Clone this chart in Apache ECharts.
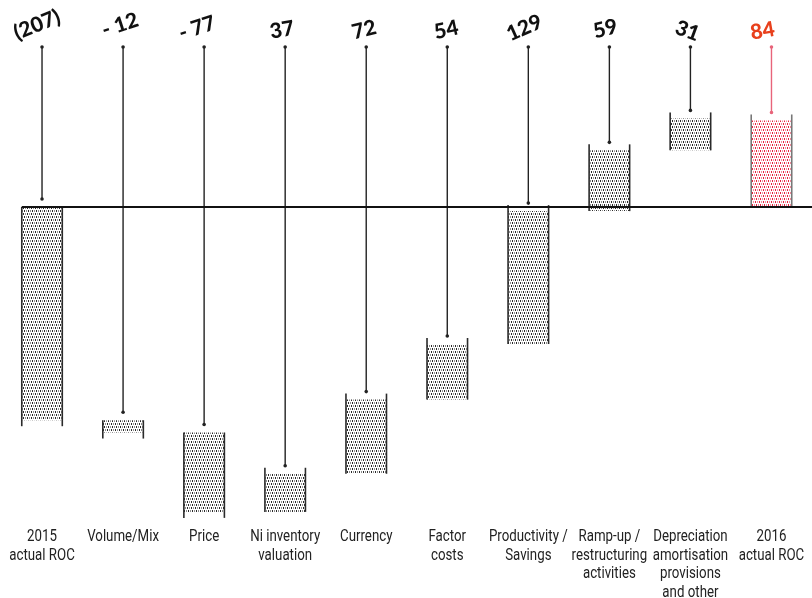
<!DOCTYPE html>
<html>
<head>
<meta charset="utf-8">
<title>ROC bridge 2015 to 2016</title>
<script src="https://cdn.jsdelivr.net/npm/echarts@6/dist/echarts.min.js"></script>
<style>
  html, body { margin: 0; padding: 0; background: #fff; }
  #chart { width: 812px; height: 598px; }
</style>
</head>
<body>
<div id="chart"></div>
<script>
// Bridge steps from 2015 to 2016 actual ROC
const categories = [
  '2015\nactual ROC',
  'Volume/Mix',
  'Price',
  'Ni inventory\nvaluation',
  'Currency',
  'Factor\ncosts',
  'Productivity /\nSavings',
  'Ramp-up /\nrestructuring\nactivities',
  'Depreciation\namortisation\nprovisions\nand other',
  '2016\nactual ROC'
];
const deltas = [-207, -12, -77, 37, 72, 54, 129, 59, 31, 84];
const valueLabels = ['(207)', '- 12', '- 77', '37', '72', '54', '129', '59', '31', '84'];
const isTotal = [true, false, false, false, false, false, false, false, false, true];

// Hand-lettered look of the value labels: tilt in degrees and small nudges
const labelTilt = [22, 18, 18, 10, 14, 12, 24, 14, -20, 10];
const labelNudgeX = [-5, -3, -7, -3, -2, -1, -4, -4, -3, -9];
const labelNudgeY = [-3, -3, 0, 2, 2, 2, 0, 1, 3, 3];

// Running totals: each bar spans [start, end]
const bars = [];
let running = 0;
deltas.forEach((d, i) => {
  let start, end;
  if (isTotal[i]) { start = 0; end = d; running = d; }
  else { start = running; end = running + d; running = end; }
  bars.push([i, start, end]);
});

const Y_MIN = -300, Y_MAX = 200;

// Stippled fill used inside each bar: staggered rows of small dots,
// alternating dark and light, each row shifted one pixel to the left
function stipple(dark, light) {
  const c = document.createElement('canvas');
  c.width = 4; c.height = 6;
  const g = c.getContext('2d');
  g.fillStyle = '#ffffff';
  g.fillRect(0, 0, 4, 6);
  const cells = [
    [0, 0, dark], [0, 1, dark], [2, 0, light], [2, 1, light],
    [3, 3, dark], [3, 4, dark], [1, 3, light], [1, 4, light]
  ];
  cells.forEach(([x, y, col]) => { g.fillStyle = col; g.fillRect(x, y, 1, 1); });
  return { image: c, repeat: 'repeat' };
}
const greyFill = stipple('#2a2a2a', '#8c8c8c');
const redFill = stipple('#e8203e', '#f28a9a');

const LABEL_FONT = '16px Roboto, "Liberation Sans", sans-serif';

const chart = echarts.init(document.getElementById('chart'), null, { renderer: 'canvas' });

function renderBar(params, api) {
  const i = api.value(0);
  const s = api.value(1);
  const e = api.value(2);
  const last = i === categories.length - 1;
  const cx = api.coord([i, 0])[0];
  const w = api.size([1, 0])[0] * 0.5;
  const yS = api.coord([i, s])[1];
  const yE = api.coord([i, e])[1];
  const top = Math.min(yS, yE);
  const bot = Math.max(yS, yE);
  const rising = e > s;
  const sideTop = rising ? top - 6 : top;
  const sideBot = rising ? bot : bot + 6;
  const x0 = cx - w / 2, x1 = cx + w / 2;
  const ink = last ? '#777' : '#2a2a2a';
  const leaderInk = last ? '#e8647a' : '#222';
  const gridTop = api.coord([i, Y_MAX])[1];
  const gridBot = api.coord([i, Y_MIN])[1];
  const leadTop = gridTop + 46;
  const leadBot = top - 8;

  return {
    type: 'group',
    children: [
      { type: 'rect', shape: { x: x0, y: top, width: w, height: bot - top },
        style: { fill: last ? redFill : greyFill } },
      { type: 'line', shape: { x1: x0, y1: sideTop, x2: x0, y2: sideBot },
        style: { stroke: ink, lineWidth: 1.6 } },
      { type: 'line', shape: { x1: x1, y1: sideTop, x2: x1, y2: sideBot },
        style: { stroke: ink, lineWidth: 1.6 } },
      { type: 'line', shape: { x1: cx, y1: leadTop, x2: cx, y2: leadBot },
        style: { stroke: leaderInk, lineWidth: 1.4 } },
      { type: 'circle', shape: { cx: cx, cy: leadTop, r: 1.8 }, style: { fill: leaderInk } },
      { type: 'circle', shape: { cx: cx, cy: leadBot, r: 1.8 }, style: { fill: leaderInk } },
      { type: 'text', x: cx + labelNudgeX[i], y: gridTop + 27 + labelNudgeY[i],
        rotation: labelTilt[i] * Math.PI / 180,
        style: { text: valueLabels[i], fill: last ? '#e8401c' : '#111',
          font: '900 21px Lato, "Open Sans", sans-serif', align: 'center', verticalAlign: 'middle' } },
      // Category name under the bar, in a condensed setting
      { type: 'text', x: cx, y: gridBot + 12, scaleX: 0.83,
        style: { text: categories[i], fill: '#222', font: LABEL_FONT,
          lineHeight: 18.5, align: 'center', verticalAlign: 'top' } }
    ]
  };
}

function renderBaseline(params, api) {
  const p0 = api.coord([0, 0]);
  const w = api.size([1, 0])[0] * 0.5;
  return {
    type: 'line',
    shape: { x1: p0[0] - w / 2, y1: p0[1], x2: api.getWidth(), y2: p0[1] },
    style: { stroke: '#111', lineWidth: 1.8 }
  };
}

chart.setOption({
  animation: false,
  backgroundColor: '#ffffff',
  grid: { left: 1.5, right: -10, top: 1, bottom: 82 },
  xAxis: {
    type: 'category',
    data: categories,
    axisLine: { show: false },
    axisTick: { show: false },
    axisLabel: { show: false }
  },
  yAxis: {
    type: 'value',
    min: Y_MIN,
    max: Y_MAX,
    show: false,
    splitLine: { show: false }
  },
  series: [
    { type: 'custom', name: 'steps', renderItem: renderBar, data: bars, z: 2, clip: false },
    { type: 'custom', name: 'zero', renderItem: renderBaseline, data: [[0, 0]], z: 3, clip: false }
  ]
});
</script>
</body>
</html>
